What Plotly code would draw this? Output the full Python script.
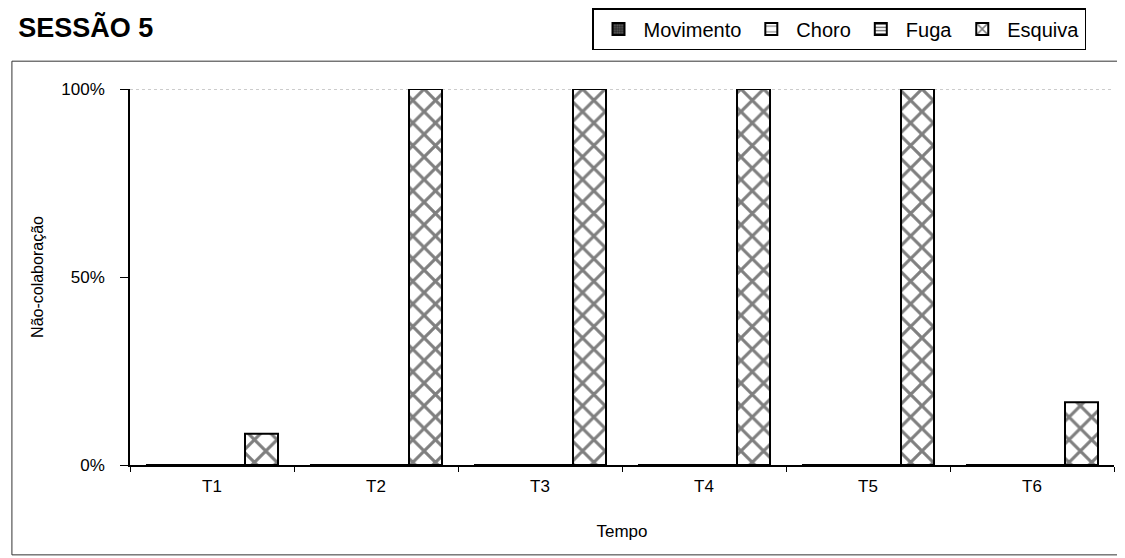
import plotly.graph_objects as go

# Data (share of non-collaboration per time block)
categories = ["T1", "T2", "T3", "T4", "T5", "T6"]
movimento = [0, 0, 0, 0, 0, 0]
choro = [0, 0, 0, 0, 0, 0]
fuga = [0, 0, 0, 0, 0, 0]
esquiva = [0.083, 1.0, 1.0, 1.0, 1.0, 0.167]

FONT = "Liberation Sans, Arial, sans-serif"

fig = go.Figure()

series = [
    ("Movimento", movimento, dict(shape=".", bgcolor="#2b2b2b", fgcolor="#9a9a9a", size=3, solidity=0.4)),
    ("Choro", choro, dict(shape="-", bgcolor="white", fgcolor="black", size=7, solidity=0.2)),
    ("Fuga", fuga, dict(shape="-", bgcolor="white", fgcolor="black", size=4, solidity=0.5)),
    ("Esquiva", esquiva, dict(shape="x", bgcolor="white", fgcolor="black", size=16, solidity=0.35)),
]

for name, vals, pat in series:
    fig.add_trace(go.Bar(
        x=categories, y=vals, name=name,
        marker=dict(color="white", pattern=pat, line=dict(color="black", width=2)),
    ))

# dotted line at the top of the plot area (100%)
fig.add_hline(y=1, line=dict(color="#999999", width=1, dash="dot"), layer="below")

# outer frame of the chart
fig.add_shape(type="rect", xref="paper", yref="paper",
              x0=-0.12, x1=1.008, y0=-0.239, y1=1.074,
              line=dict(color="#333333", width=1))

fig.update_layout(
    width=1125, height=558,
    margin=dict(l=122, r=19, t=81, b=101, autoexpand=False),
    barmode="group", bargap=0.195, bargroupgap=0,
    plot_bgcolor="white", paper_bgcolor="white",
    font=dict(family=FONT, size=17, color="black"),
    title=dict(text="<b>SESSÃO 5</b>", font=dict(size=27, family=FONT),
               x=0.009, xanchor="left", y=0.965, yanchor="middle"),
    legend=dict(orientation="h", x=584 / 1125, xref="container", xanchor="left",
                y=1.0, yref="container", yanchor="top",
                bordercolor="black", borderwidth=1.5, bgcolor="white",
                font=dict(size=20), traceorder="normal", itemwidth=40),
    xaxis=dict(showline=True, linecolor="black", linewidth=1.5,
               ticks="outside", tickson="boundaries", ticklen=5, tickcolor="black",
               ticklabelstandoff=5, automargin=False,
               title=dict(text="Tempo", font=dict(size=17), standoff=30),
               showgrid=False),
    yaxis=dict(range=[0, 1], tickvals=[0, 0.5, 1], tickformat=".0%",
               showline=True, linecolor="black", linewidth=1.5,
               ticks="outside", ticklen=8, tickcolor="black",
               ticklabelstandoff=12, automargin=False,
               showgrid=False, zeroline=False,
               title=dict(text="Não-colaboração", font=dict(size=16), standoff=14)),
)

fig.write_html("out.html")
